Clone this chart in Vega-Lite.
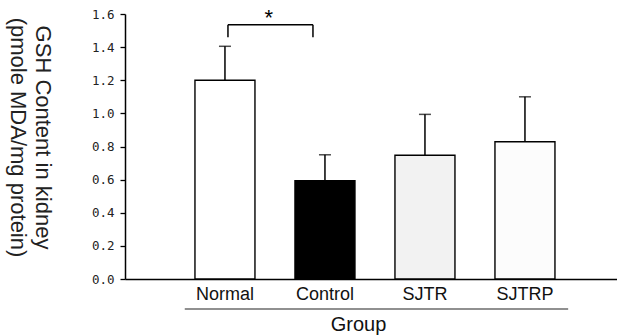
{
  "$schema": "https://vega.github.io/schema/vega-lite/v6.json",
  "autosize": {"type": "none"},
  "padding": {"left": 125, "top": 14, "right": 0, "bottom": 56},
  "width": 492,
  "height": 265,
  "background": "white",
  "config": {"view": {"stroke": null}, "axis": {"labelOverlap": false, "labelSeparation": 0}},
  "datasets": {
    "groups": [
      {"group": "Normal", "mean": 1.2, "upper": 1.405},
      {"group": "Control", "mean": 0.594, "upper": 0.75},
      {"group": "SJTR", "mean": 0.747, "upper": 0.994},
      {"group": "SJTRP", "mean": 0.829, "upper": 1.1}
    ],
    "bracket": [
      {"g1": "Normal", "g2": "Control", "low": 1.46, "high": 1.535, "star": 1.592, "label": "*"}
    ],
    "underline": [
      {"from": "Normal", "to": "SJTRP", "level": -0.181}
    ]
  },
  "encoding": {
    "y": {
      "type": "quantitative",
      "scale": {"domain": [0, 1.6], "nice": false, "zero": true},
      "axis": {
        "title": ["GSH Content in kidney", "(pmole MDA/mg protein)"],
        "values": [0, 0.2, 0.4, 0.6, 0.8, 1.0, 1.2, 1.4, 1.6],
        "format": ".1f",
        "labelOverlap": false,
        "domainColor": "black", "domainWidth": 1.5,
        "tickColor": "black", "tickSize": 5, "tickWidth": 1.3,
        "labelFont": "DejaVu Sans Mono", "labelFontSize": 12.5, "labelColor": "#222", "labelPadding": 6,
        "titleFont": "Liberation Sans", "titleFontSize": 22, "titleFontWeight": "normal", "titleColor": "#222",
        "titleAngle": 90, "titleAlign": "center", "titleBaseline": "top",
        "titleX": -73, "titleY": 123, "titleLineHeight": 25,
        "grid": false
      }
    }
  },
  "layer": [
    {
      "data": {"name": "groups"},
      "mark": {"type": "bar", "stroke": "black", "strokeWidth": 1.4},
      "encoding": {
        "x": {
          "field": "group", "type": "nominal", "sort": null,
          "scale": {"domain": ["Normal", "Control", "SJTR", "SJTRP"], "paddingInner": 0.4, "paddingOuter": 0.66, "align": 0.53},
          "axis": {
            "title": "Group",
            "domain": true, "domainColor": "black", "domainWidth": 1.5,
            "ticks": false, "tickSize": 0,
            "labelAngle": 0,
            "labelFont": "Liberation Sans", "labelFontSize": 18, "labelColor": "#111",
            "labelPadding": 6.5, "labelBaseline": "top",
            "titleFont": "Liberation Sans", "titleFontSize": 20, "titleFontWeight": "normal", "titleColor": "#111",
            "titleX": 233, "titleY": 35, "titleAlign": "center", "titleBaseline": "top",
            "grid": false
          }
        },
        "y": {"field": "mean"},
        "color": {
          "field": "group", "type": "nominal",
          "scale": {"domain": ["Normal", "Control", "SJTR", "SJTRP"], "range": ["#ffffff", "#000000", "#f2f2f2", "#fcfcfc"]},
          "legend": null
        }
      }
    },
    {
      "data": {"name": "groups"},
      "mark": {"type": "rule", "color": "black", "strokeWidth": 1.5},
      "encoding": {
        "x": {"field": "group", "type": "nominal", "sort": null},
        "y": {"field": "mean"},
        "y2": {"field": "upper"}
      }
    },
    {
      "data": {"name": "groups"},
      "mark": {"type": "tick", "orient": "horizontal", "color": "black", "size": 12, "thickness": 1.5},
      "encoding": {
        "x": {"field": "group", "type": "nominal", "sort": null},
        "y": {"field": "upper"}
      }
    },
    {
      "data": {"name": "bracket"},
      "mark": {"type": "rule", "color": "black", "strokeWidth": 1.5},
      "encoding": {
        "x": {"field": "g1", "type": "nominal", "bandPosition": 0.55},
        "y": {"field": "low"},
        "y2": {"field": "high"}
      }
    },
    {
      "data": {"name": "bracket"},
      "mark": {"type": "rule", "color": "black", "strokeWidth": 1.5},
      "encoding": {
        "x": {"field": "g2", "type": "nominal", "bandPosition": 0.3},
        "y": {"field": "low"},
        "y2": {"field": "high"}
      }
    },
    {
      "data": {"name": "bracket"},
      "mark": {"type": "rule", "color": "black", "strokeWidth": 1.5},
      "encoding": {
        "x": {"field": "g1", "type": "nominal", "bandPosition": 0.55},
        "x2": {"field": "g2", "bandPosition": 0.3},
        "y": {"field": "high"}
      }
    },
    {
      "data": {"name": "bracket"},
      "mark": {"type": "text", "font": "Liberation Sans", "fontSize": 22, "color": "black", "baseline": "middle", "align": "center", "dy": 3},
      "encoding": {
        "x": {"field": "g1", "type": "nominal", "bandPosition": 1.23},
        "y": {"field": "star"},
        "text": {"field": "label"}
      }
    },
    {
      "data": {"name": "underline"},
      "mark": {"type": "rule", "color": "#222", "strokeWidth": 1.2},
      "encoding": {
        "x": {"field": "from", "type": "nominal", "bandPosition": -0.17},
        "x2": {"field": "to", "bandPosition": 1.22},
        "y": {"field": "level"}
      }
    }
  ]
}
